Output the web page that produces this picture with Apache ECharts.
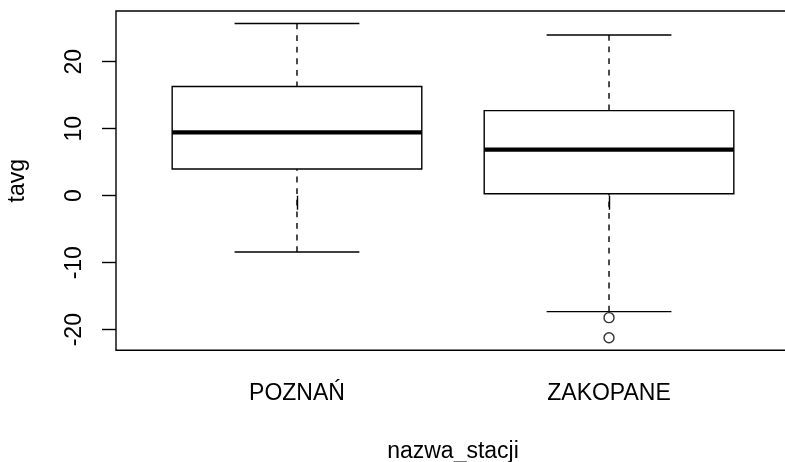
<!DOCTYPE html>
<html>
<head>
<meta charset="utf-8">
<script src="https://cdn.jsdelivr.net/npm/echarts@6/dist/echarts.min.js"></script>
<style>html,body{margin:0;padding:0;background:#fff}#c{width:785px;height:462px}</style>
</head>
<body>
<div id="c"></div>
<script>
const categories = ['POZNAŃ', 'ZAKOPANE'];
const whiskerLow = [-8.4, -17.3];
const q1 = [4.0, 0.3];
const median = [9.45, 6.87];
const q3 = [16.3, 12.7];
const whiskerHigh = [25.7, 24.0];
const outlierStation = ['ZAKOPANE', 'ZAKOPANE'];
const outlierValue = [-18.2, -21.2];
const yTicks = [-20, -10, 0, 10, 20];

const allVals = whiskerLow.concat(whiskerHigh, outlierValue);
const lo = Math.min.apply(null, allVals), hi = Math.max.apply(null, allVals);
const pad = 0.04 * (hi - lo);

const boxData = categories.map((c, i) => [i + 1, whiskerLow[i], q1[i], median[i], q3[i], whiskerHigh[i]]);
const outData = outlierStation.map((s, i) => [categories.indexOf(s) + 1, outlierValue[i]]);

const LW = 1.4;
function renderItem(params, api) {
  const x = api.value(0);
  const pLo = api.coord([x, api.value(1)]);
  const pQ1 = api.coord([x, api.value(2)]);
  const pMed = api.coord([x, api.value(3)]);
  const pQ3 = api.coord([x, api.value(4)]);
  const pHi = api.coord([x, api.value(5)]);
  const bw = api.size([0.8, 0])[0];
  const cw = bw / 2;
  const cx = pMed[0];
  const solid = { stroke: '#000', lineWidth: LW, fill: null };
  const dashed = { stroke: '#000', lineWidth: LW, lineDash: [5.8, 5.8], fill: null };
  return {
    type: 'group',
    children: [
      { type: 'line', shape: { x1: cx, y1: pHi[1], x2: cx, y2: pQ3[1] }, style: dashed },
      { type: 'line', shape: { x1: cx, y1: pLo[1], x2: cx, y2: pQ1[1] }, style: dashed },
      { type: 'line', shape: { x1: cx - cw / 2, y1: pHi[1], x2: cx + cw / 2, y2: pHi[1] }, style: solid },
      { type: 'line', shape: { x1: cx - cw / 2, y1: pLo[1], x2: cx + cw / 2, y2: pLo[1] }, style: solid },
      { type: 'rect', shape: { x: cx - bw / 2, y: pQ3[1], width: bw, height: pQ1[1] - pQ3[1] }, style: { stroke: '#000', lineWidth: LW, fill: '#fff' } },
      { type: 'line', shape: { x1: cx - bw / 2, y1: pMed[1], x2: cx + bw / 2, y2: pMed[1] }, style: { stroke: '#000', lineWidth: 4.3 } }
    ]
  };
}

const font = '"Liberation Sans", Arial, sans-serif';
const chart = echarts.init(document.getElementById('c'));
chart.setOption({
  animation: false,
  backgroundColor: '#fff',
  grid: { left: 116, top: 11, width: 674, height: 339.3, show: true, borderColor: '#000', borderWidth: LW, backgroundColor: 'transparent', containLabel: false, outerBoundsMode: 'none' },
  xAxis: {
    type: 'value', min: 0.42, max: 2.58,
    splitLine: { show: false },
    axisLine: { show: false },
    axisTick: { show: true, length: 14, lineStyle: { color: '#000', width: LW }, customValues: [1, 2] },
    axisLabel: { customValues: [1, 2], formatter: v => categories[Math.round(v) - 1] || '', color: '#000', fontSize: 23, fontFamily: font, margin: 32 },
    name: 'nazwa_stacji', nameLocation: 'middle', nameGap: 90,
    nameTextStyle: { color: '#000', fontSize: 23, fontFamily: font }
  },
  yAxis: {
    type: 'value', min: lo - pad, max: hi + pad,
    splitLine: { show: false },
    axisLine: { show: false },
    axisTick: { show: true, length: 14, lineStyle: { color: '#000', width: LW }, customValues: yTicks },
    axisLabel: { customValues: yTicks, rotate: 90, color: '#000', fontSize: 23, fontFamily: font, margin: 30 },
    name: 'tavg', nameLocation: 'middle', nameGap: 87, nameRotate: 90,
    nameTextStyle: { color: '#000', fontSize: 23, fontFamily: font }
  },
  series: [
    { type: 'custom', renderItem: renderItem, data: boxData, encode: { x: 0, y: [1, 2, 3, 4, 5] }, silent: true },
    { type: 'scatter', data: outData, symbol: 'circle', symbolSize: 10, silent: true,
      itemStyle: { color: 'rgba(0,0,0,0)', borderColor: '#000', borderWidth: LW } }
  ]
});
</script>
</body>
</html>
